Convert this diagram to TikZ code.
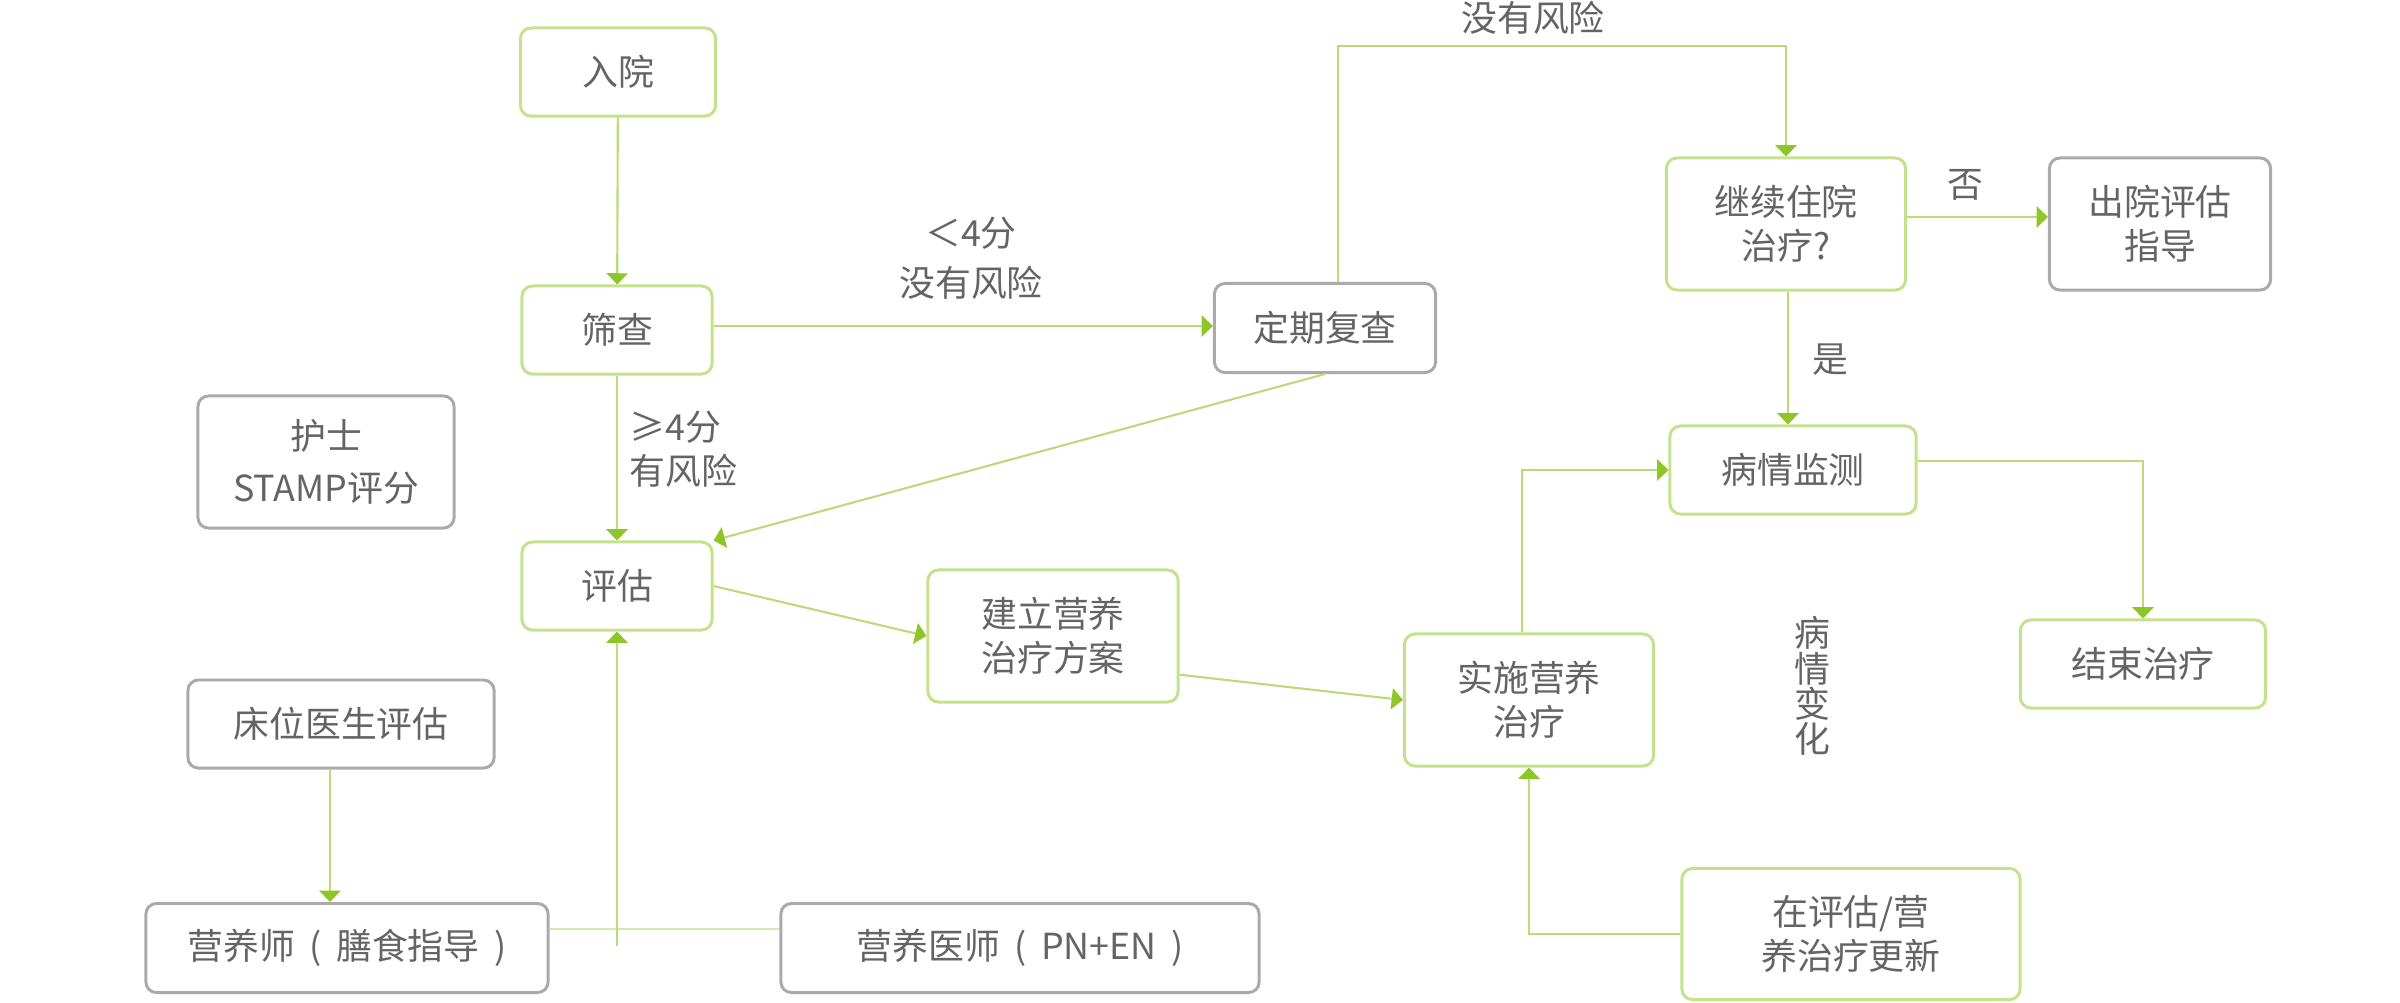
\documentclass[tikz,border=0pt]{standalone}
\usepackage{fontspec}
\setmainfont{Noto Sans CJK SC}
\usepackage{tikz}
\usetikzlibrary{arrows.meta, positioning}
\definecolor{boxgreen}{RGB}{196,226,140}
\definecolor{linegreen}{RGB}{186,220,120}
\definecolor{tipgreen}{RGB}{141,198,38}
\definecolor{boxgray}{RGB}{170,170,170}
\definecolor{textgray}{RGB}{100,100,100}
\newcommand{\lpar}{\hspace{.4em}(\hspace{.4em}}
\newcommand{\rpar}{\hspace{.4em})}
\tikzset{
		box/.style={draw=boxgreen, line width=0.85pt, rounded corners=3pt, align=center, inner sep=0pt,
			text=textgray, font=\fontsize{10.2pt}{12.6pt}\selectfont},
		graybox/.style={box, draw=boxgray},
		lbl/.style={text=textgray, inner sep=0pt, align=center, font=\fontsize{10.2pt}{12.6pt}\selectfont},
		link/.style={draw=linegreen, line width=0.6pt, -{Triangle[width=6pt,length=3.2pt,color=tipgreen]}},
		plain link/.style={draw=linegreen!60, line width=0.6pt}
	}
\begin{document}
\begin{tikzpicture}[x=0.01cm, y=-0.01cm]
				\useasboundingbox (0,0) rectangle (2400,1002);

				\node[box, minimum width=1.95cm, minimum height=0.88cm]     (ruyuan)      at (618,72)   {入院};
				\node[box, minimum width=1.90cm, minimum height=0.88cm]     (shaicha)     at (617,330)  {筛查};
				\node[box, minimum width=1.90cm, minimum height=0.88cm]     (pinggu)      at (617,586)  {评估};
				\node[graybox, minimum width=2.56cm, minimum height=1.32cm] (hushi)       at (326,462)  {护士\\[2pt]STAMP评分};
				\node[graybox, minimum width=3.06cm, minimum height=0.88cm] (chuangwei)   at (341,724)  {床位医生评估};
				\node[graybox, minimum width=4.02cm, minimum height=0.89cm] (yingyangshi) at (347,948)  {营养师\lpar 膳食指导\rpar};
				\node[graybox, minimum width=4.78cm, minimum height=0.89cm] (yishi)       at (1020,948) {营养医师\lpar PN+EN\rpar};
				\node[graybox, minimum width=2.21cm, minimum height=0.89cm] (dingqi)      at (1325,328) {定期复查};
				\node[box, minimum width=2.50cm, minimum height=1.32cm]     (jianli)      at (1053,636) {建立营养\\治疗方案};
				\node[box, minimum width=2.49cm, minimum height=1.32cm]     (shishi)      at (1529,700) {实施营养\\治疗};
				\node[box, minimum width=2.39cm, minimum height=1.32cm]     (jixu)        at (1786,224) {继续住院\\治疗?};
				\node[graybox, minimum width=2.21cm, minimum height=1.32cm] (chuyuan)     at (2160,224) {出院评估\\指导};
				\node[box, minimum width=2.46cm, minimum height=0.88cm]     (jiance)      at (1793,470) {病情监测};
				\node[box, minimum width=2.45cm, minimum height=0.88cm]     (jieshu)      at (2143,664) {结束治疗};
				\node[box, minimum width=3.38cm, minimum height=1.31cm]     (gengxin)     at (1851,934) {在评估/营\\养治疗更新};

				% labels
				\node[lbl, font=\fontsize{10.2pt}{14.2pt}\selectfont] (lowrisk)  at (971,258)  {＜4分\\没有风险};
				\node[lbl, align=left, anchor=west]                   (highrisk) at (629,449)  {≥4分\\有风险};
				\node[lbl]                                            (norisk)   at (1533,18)  {没有风险};
				\node[lbl]                                            (fou)      at (1965,185) {否};
				\node[lbl]                                            (shi)      at (1830,360) {是};
				\node[lbl, font=\fontsize{10.2pt}{10pt}\selectfont]   (bianhua)  at (1812,686) {病\\情\\变\\化};

				\coordinate (hub)    at (617,929);
				\coordinate (hubend) at (617,946);

				\draw[link] (ruyuan) -- (shaicha);
				\draw[link] ([yshift=0.04cm]shaicha.east) -- ([yshift=0.04cm]shaicha.east -| dingqi.west);
				\draw[link] (shaicha) -- (pinggu);
				\draw[link] (dingqi.south) -- (pinggu.north east);
				\draw[link] ([xshift=0.13cm]dingqi.north) -- ++(0,-236) -| (jixu.north);
				\draw[link] ([yshift=0.07cm]jixu.east) -- ([yshift=0.07cm]jixu.east -| chuyuan.west);
				\draw[link] ([xshift=0.02cm]jixu.south) -- ([xshift=0.02cm]jixu.south |- jiance.north);
				\draw[link] (pinggu.east) -- (jianli.west);
				\draw[link] (jianli.-17) -- (shishi.west);
				\draw[link] ([xshift=-0.07cm]shishi.north) |- (jiance.west);
				\draw[link] ([yshift=0.09cm]jiance.east) -| (jieshu.north);
				\draw[link] (gengxin.west) -| (shishi.south);
				\draw[link] ([xshift=-0.11cm]chuangwei.south) -- ([xshift=-0.11cm]chuangwei.south |- yingyangshi.north);
				\draw[plain link] (yingyangshi.east |- hub) -- (yishi.west |- hub);
				\draw[link] (hubend) -- (hub) -- (pinggu.south);
			\end{tikzpicture}
\end{document}
